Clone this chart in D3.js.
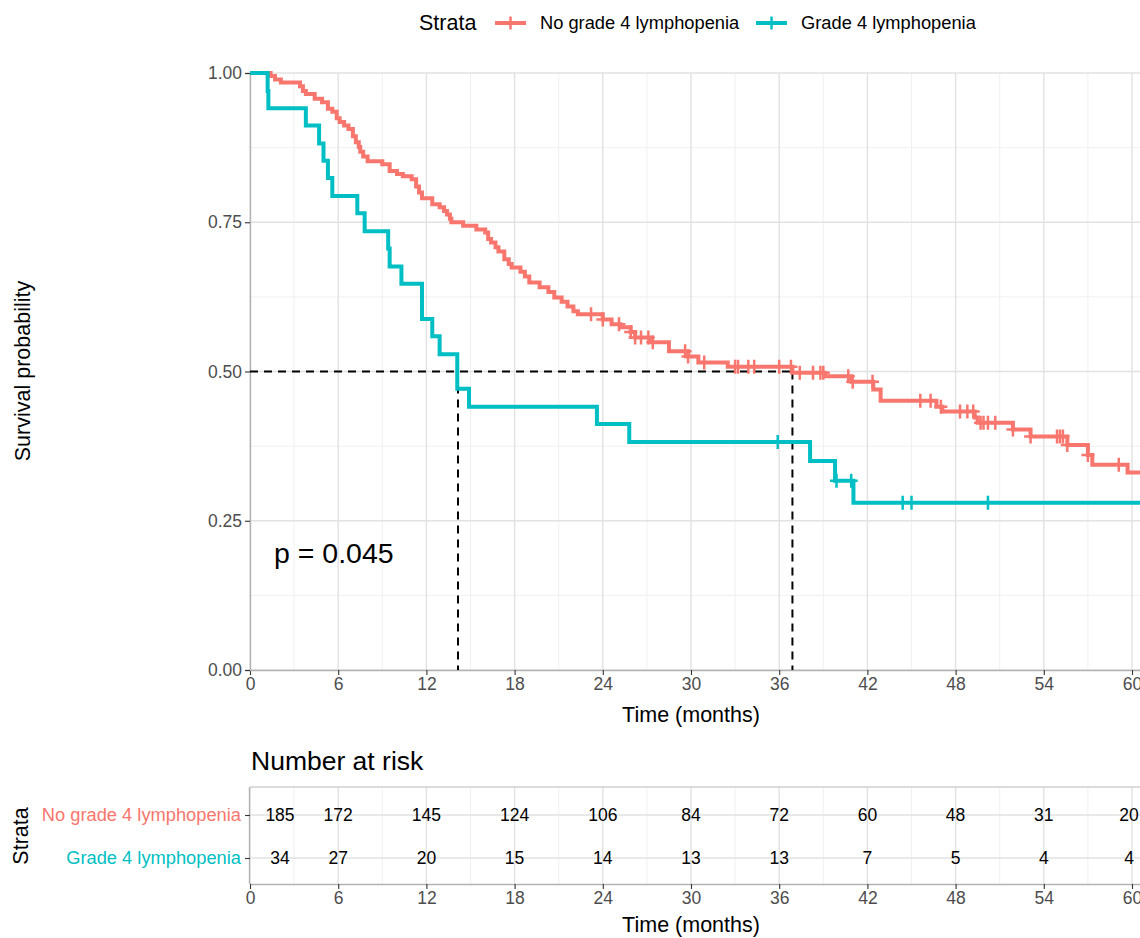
<!DOCTYPE html>
<html>
<head>
<meta charset="utf-8">
<script src="https://cdn.jsdelivr.net/npm/d3@7"></script>
<style>
  body { margin: 0; background: #fff; }
  text { font-family: "Liberation Sans", Arial, sans-serif; }
</style>
</head>
<body>
<svg id="chart" width="1140" height="938"></svg>
<script>
// data
var strata = ['No grade 4 lymphopenia', 'Grade 4 lymphopenia'];
var colors = ['#F8766D', '#00BFC4'];

// step start points [time, survival]
var noGrade4Steps = [
  [0, 1], [1.4, 0.995], [1.7, 0.989], [2.1, 0.984], [3.4, 0.978], [3.6, 0.97], [3.8, 0.965],
  [4.4, 0.957], [4.9, 0.951], [5.3, 0.94], [5.6, 0.935], [5.9, 0.924], [6.1, 0.918], [6.4, 0.912],
  [6.7, 0.906], [7.0, 0.894], [7.2, 0.884], [7.4, 0.876], [7.5, 0.868], [7.7, 0.86], [8.0, 0.852],
  [9.0, 0.847], [9.5, 0.836], [10.0, 0.831], [10.4, 0.827], [11.0, 0.822], [11.3, 0.81],
  [11.5, 0.8], [11.7, 0.79], [12.4, 0.78], [12.9, 0.775], [13.2, 0.769], [13.4, 0.763],
  [13.6, 0.756], [13.7, 0.75], [14.5, 0.744], [15.4, 0.738], [16.0, 0.733], [16.2, 0.722],
  [16.4, 0.716], [16.7, 0.708], [16.9, 0.701], [17.3, 0.688], [17.6, 0.68], [17.8, 0.674],
  [18.4, 0.667], [18.7, 0.659], [19.0, 0.649], [19.7, 0.641], [20.3, 0.633], [20.7, 0.624],
  [21.2, 0.617], [21.6, 0.609], [22.0, 0.601], [22.3, 0.596], [24.0, 0.587], [24.6, 0.579],
  [25.2, 0.574], [25.9, 0.566], [26.2, 0.557], [27.2, 0.549], [28.5, 0.534], [29.8, 0.525],
  [30.5, 0.515], [32.5, 0.508], [36.9, 0.498], [39.1, 0.492], [40.9, 0.483], [42.4, 0.47],
  [42.9, 0.451], [46.7, 0.441], [47.1, 0.433], [49.3, 0.423], [49.5, 0.414], [51.9, 0.403],
  [53.1, 0.391], [55.6, 0.377], [57.0, 0.36], [57.3, 0.344], [59.7, 0.331], [60.6, 0.331]
];
var noGrade4Censor = [23.2, 24.0, 25.1, 25.9, 26.2, 26.6, 27.1, 27.4, 29.6, 29.8, 30.9, 33.0,
  33.2, 33.9, 34.3, 36.0, 36.8, 37.4, 38.3, 38.8, 39.0, 40.7, 41.0, 42.35, 45.6, 46.3, 47.0,
  48.3, 48.8, 49.2, 49.7, 49.9, 50.2, 50.7, 51.9, 53.1, 54.9, 55.1, 55.3, 55.6, 57.0, 59.1];

var grade4Steps = [
  [0, 1], [1.2, 0.97], [1.25, 0.941], [3.8, 0.912], [4.7, 0.882], [5.0, 0.853], [5.3, 0.824],
  [5.6, 0.794], [7.3, 0.765], [7.8, 0.735], [9.4, 0.706], [9.5, 0.676], [10.3, 0.647],
  [11.7, 0.588], [12.4, 0.559], [12.9, 0.529], [14.1, 0.471], [14.9, 0.441], [23.6, 0.412],
  [25.8, 0.382], [38.1, 0.35], [39.8, 0.317], [41.05, 0.28], [60.6, 0.28]
];
var grade4Censor = [35.9, 39.9, 40.9, 44.4, 45.0, 50.2];

var medians = [36.9, 14.15];
var pValue = 'p = 0.045';

var riskTimes = [0, 6, 12, 18, 24, 30, 36, 42, 48, 54, 60];
var riskNoGrade4 = [185, 172, 145, 124, 106, 84, 72, 60, 48, 31, 20];
var riskGrade4 = [34, 27, 20, 15, 14, 13, 13, 7, 5, 4, 4];

var xTicks = d3.range(0, 61, 6);
var yTicks = [0, 0.25, 0.5, 0.75, 1];

var svg = d3.select('#chart');

var x = d3.scaleLinear().domain([0, 60]).range([250, 1132]);
var y = d3.scaleLinear().domain([0, 1]).range([670, 73]);

// clip for the panel
svg.append('clipPath').attr('id', 'clip')
  .append('rect').attr('x', 250).attr('y', 60).attr('width', 890).attr('height', 620);

// grid
var grid = svg.append('g');
grid.selectAll('.vminor').data(d3.range(3, 61, 6)).enter().append('line')
  .attr('x1', function(d) { return x(d); }).attr('x2', function(d) { return x(d); })
  .attr('y1', y(0)).attr('y2', y(1)).attr('stroke', '#F0F0F0').attr('stroke-width', 1);
grid.selectAll('.hminor').data([0.125, 0.375, 0.625, 0.875]).enter().append('line')
  .attr('x1', 250).attr('x2', 1140)
  .attr('y1', function(d) { return y(d); }).attr('y2', function(d) { return y(d); })
  .attr('stroke', '#F0F0F0').attr('stroke-width', 1);
grid.selectAll('.vmajor').data(xTicks).enter().append('line')
  .attr('x1', function(d) { return x(d); }).attr('x2', function(d) { return x(d); })
  .attr('y1', y(0)).attr('y2', y(1)).attr('stroke', '#E2E2E2').attr('stroke-width', 1.4);
grid.selectAll('.hmajor').data(yTicks).enter().append('line')
  .attr('x1', 250).attr('x2', 1140)
  .attr('y1', function(d) { return y(d); }).attr('y2', function(d) { return y(d); })
  .attr('stroke', '#E2E2E2').attr('stroke-width', 1.4);

// axes
var xAxis = svg.append('g').attr('transform', 'translate(0,670)')
  .call(d3.axisBottom(x).tickValues(xTicks).tickSize(5).tickPadding(3));
var yAxis = svg.append('g').attr('transform', 'translate(250,0)')
  .call(d3.axisLeft(y).tickValues(yTicks).tickFormat(d3.format('.2f')).tickSize(5).tickPadding(3));
[xAxis, yAxis].forEach(function(a) {
  a.select('.domain').attr('stroke', '#B3B3B3').attr('stroke-width', 1.4);
  a.selectAll('.tick line').attr('stroke', '#333').attr('stroke-width', 1.1);
  a.selectAll('.tick text').attr('fill', '#4D4D4D').style('font-size', '17.5px');
});
xAxis.select('.domain').attr('d', 'M250,0.5H1140');

svg.append('text').attr('x', x(30)).attr('y', 722).attr('text-anchor', 'middle')
  .style('font-size', '21.5px').text('Time (months)');
svg.append('text').attr('transform', 'translate(30,371) rotate(-90)').attr('text-anchor', 'middle')
  .style('font-size', '21.5px').text('Survival probability');

// medians
var med = svg.append('g').attr('stroke', '#000').attr('stroke-width', 2)
  .attr('stroke-dasharray', '8,6').attr('fill', 'none');
med.append('line').attr('x1', x(0)).attr('x2', x(d3.max(medians)))
  .attr('y1', y(0.5)).attr('y2', y(0.5));
med.selectAll('.mv').data(medians).enter().append('line')
  .attr('x1', function(d) { return x(d); }).attr('x2', function(d) { return x(d); })
  .attr('y1', y(0.5)).attr('y2', y(0));

// curves
var line = d3.line()
  .x(function(d) { return x(d[0]); })
  .y(function(d) { return y(d[1]); })
  .curve(d3.curveStepAfter);

function survAt(steps, t) {
  var s = steps[0][1];
  steps.forEach(function(p) { if (p[0] <= t) s = p[1]; });
  return s;
}

var series = [
  { steps: noGrade4Steps, censor: noGrade4Censor, color: colors[0] },
  { steps: grade4Steps, censor: grade4Censor, color: colors[1] }
];

var plot = svg.append('g').attr('clip-path', 'url(#clip)');
series.forEach(function(s) {
  plot.append('path').datum(s.steps).attr('d', line)
    .attr('fill', 'none').attr('stroke', s.color).attr('stroke-width', 4);
  plot.selectAll(null).data(s.censor).enter().append('path')
    .attr('d', function(t) {
      var cx = x(t), cy = y(survAt(s.steps, t));
      return 'M' + (cx - 6.5) + ',' + cy + 'H' + (cx + 6.5) + 'M' + cx + ',' + (cy - 7) + 'V' + (cy + 7);
    })
    .attr('stroke', s.color).attr('stroke-width', 2.5).attr('fill', 'none');
});

svg.append('text').attr('x', 274).attr('y', 563).style('font-size', '28.5px').text(pValue);

// legend
var legend = svg.append('g');
legend.append('text').attr('x', 419).attr('y', 30).style('font-size', '21.5px').text('Strata');
var legendX = [495, 756];
strata.forEach(function(name, i) {
  var g = legend.append('g').attr('transform', 'translate(' + legendX[i] + ',23)');
  g.append('line').attr('x1', 0).attr('x2', 31).attr('stroke', colors[i]).attr('stroke-width', 4);
  g.append('line').attr('x1', 15.5).attr('x2', 15.5).attr('y1', -6.5).attr('y2', 6.5)
    .attr('stroke', colors[i]).attr('stroke-width', 2.5);
  g.append('text').attr('x', 45).attr('y', 6).style('font-size', '18.3px').text(name);
});

// risk table
var ry = d3.scalePoint().domain(strata).range([815, 858]);
var tableTop = 787, tableBottom = 884;

var tg = svg.append('g');
tg.selectAll('.tvminor').data(d3.range(3, 61, 6)).enter().append('line')
  .attr('x1', function(d) { return x(d); }).attr('x2', function(d) { return x(d); })
  .attr('y1', tableTop).attr('y2', tableBottom).attr('stroke', '#F0F0F0');
tg.selectAll('.tvmajor').data(xTicks).enter().append('line')
  .attr('x1', function(d) { return x(d); }).attr('x2', function(d) { return x(d); })
  .attr('y1', tableTop).attr('y2', tableBottom).attr('stroke', '#E2E2E2').attr('stroke-width', 1.4);
tg.selectAll('.thmajor').data(strata).enter().append('line')
  .attr('x1', 250).attr('x2', 1140)
  .attr('y1', function(d) { return ry(d); }).attr('y2', function(d) { return ry(d); })
  .attr('stroke', '#E2E2E2').attr('stroke-width', 1.4);
tg.append('line').attr('x1', 250).attr('x2', 1140).attr('y1', tableTop).attr('y2', tableTop)
  .attr('stroke', '#CFCFCF').attr('stroke-width', 1.4);

var txAxis = svg.append('g').attr('transform', 'translate(0,' + tableBottom + ')')
  .call(d3.axisBottom(x).tickValues(xTicks).tickSize(5).tickPadding(3));
var tyAxis = svg.append('g').attr('transform', 'translate(250,0)')
  .call(d3.axisLeft(ry).tickSize(5).tickPadding(4));
[txAxis, tyAxis].forEach(function(a) {
  a.select('.domain').attr('stroke', '#B3B3B3').attr('stroke-width', 1.4);
  a.selectAll('.tick line').attr('stroke', '#333').attr('stroke-width', 1.1);
  a.selectAll('.tick text').attr('fill', '#4D4D4D').style('font-size', '17.5px');
});
txAxis.select('.domain').attr('d', 'M250,0.5H1140');
tyAxis.select('.domain').attr('d', 'M-0.5,' + tableTop + 'V' + tableBottom);
tyAxis.selectAll('.tick text').attr('fill', function(d, i) { return colors[i]; })
  .style('font-size', '18.3px');

svg.append('text').attr('x', 251).attr('y', 770).style('font-size', '26.5px').text('Number at risk');
svg.append('text').attr('x', x(30)).attr('y', 932).attr('text-anchor', 'middle')
  .style('font-size', '21.5px').text('Time (months)');
svg.append('text').attr('transform', 'translate(28,836) rotate(-90)').attr('text-anchor', 'middle')
  .style('font-size', '21.5px').text('Strata');

var riskRows = [riskNoGrade4, riskGrade4];
riskRows.forEach(function(row, r) {
  svg.selectAll(null).data(row).enter().append('text')
    .attr('x', function(d, i) {
      var t = riskTimes[i];
      if (t === 0) return x(t) + 30;
      if (t === 60) return x(t) - 3;
      return x(t);
    })
    .attr('y', ry(strata[r]) + 6)
    .attr('text-anchor', 'middle')
    .style('font-size', '17.5px')
    .text(function(d) { return d; });
});
</script>
</body>
</html>
